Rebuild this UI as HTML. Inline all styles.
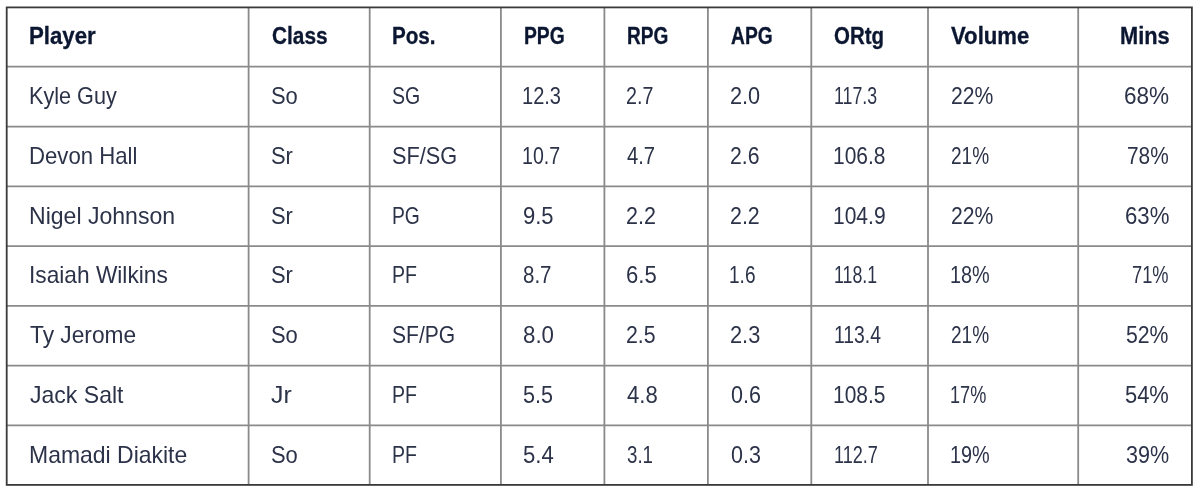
<!DOCTYPE html><html><head><meta charset="utf-8"><style>
html,body{margin:0;padding:0;background:#fff;width:1200px;height:494px;overflow:hidden;position:relative}
#w{position:absolute;left:0;top:0;width:1200px;height:494px;filter:blur(0px)}
.t{position:absolute;white-space:nowrap;transform-origin:0 0;font-family:"Liberation Sans",sans-serif}
.h{font-weight:bold;font-size:23.3px;line-height:30px;color:#0b1631;-webkit-text-stroke:0.3px #0b1631}
.b{font-weight:normal;font-size:23.6px;line-height:30px;color:#2c3349}
svg{position:absolute;left:0;top:0}
</style></head><body><div id="w">
<svg width="1200" height="494" viewBox="0 0 1200 494">
<line x1="248.6" y1="7.4" x2="248.6" y2="484.9" stroke="#8a8a8a" stroke-width="1.8"/>
<line x1="369.7" y1="7.4" x2="369.7" y2="484.9" stroke="#8a8a8a" stroke-width="1.8"/>
<line x1="500.9" y1="7.4" x2="500.9" y2="484.9" stroke="#8a8a8a" stroke-width="1.8"/>
<line x1="604.4" y1="7.4" x2="604.4" y2="484.9" stroke="#8a8a8a" stroke-width="1.8"/>
<line x1="707.9" y1="7.4" x2="707.9" y2="484.9" stroke="#8a8a8a" stroke-width="1.8"/>
<line x1="811.3" y1="7.4" x2="811.3" y2="484.9" stroke="#8a8a8a" stroke-width="1.8"/>
<line x1="928.0" y1="7.4" x2="928.0" y2="484.9" stroke="#8a8a8a" stroke-width="1.8"/>
<line x1="1078.2" y1="7.4" x2="1078.2" y2="484.9" stroke="#8a8a8a" stroke-width="1.8"/>
<line x1="6.7" y1="66.7" x2="1191.9" y2="66.7" stroke="#8a8a8a" stroke-width="1.8"/>
<line x1="6.7" y1="126.6" x2="1191.9" y2="126.6" stroke="#8a8a8a" stroke-width="1.8"/>
<line x1="6.7" y1="186.4" x2="1191.9" y2="186.4" stroke="#8a8a8a" stroke-width="1.8"/>
<line x1="6.7" y1="246.1" x2="1191.9" y2="246.1" stroke="#8a8a8a" stroke-width="1.8"/>
<line x1="6.7" y1="305.85" x2="1191.9" y2="305.85" stroke="#8a8a8a" stroke-width="1.8"/>
<line x1="6.7" y1="365.6" x2="1191.9" y2="365.6" stroke="#8a8a8a" stroke-width="1.8"/>
<line x1="6.7" y1="425.4" x2="1191.9" y2="425.4" stroke="#8a8a8a" stroke-width="1.8"/>
<rect x="6.7" y="7.4" width="1185.2" height="477.5" fill="none" stroke="#3a3a3a" stroke-width="1.8"/>
</svg>
<div class="t h" style="left:28.96px;top:21.00px;transform:scaleX(0.9537)">Player</div>
<div class="t h" style="left:271.57px;top:21.00px;transform:scaleX(0.8932)">Class</div>
<div class="t h" style="left:392.41px;top:21.00px;transform:scaleX(0.8855)">Pos.</div>
<div class="t h" style="left:523.65px;top:21.00px;transform:scaleX(0.8281)">PPG</div>
<div class="t h" style="left:627.26px;top:21.00px;transform:scaleX(0.8184)">RPG</div>
<div class="t h" style="left:730.52px;top:21.00px;transform:scaleX(0.8254)">APG</div>
<div class="t h" style="left:834.38px;top:21.00px;transform:scaleX(0.8785)">ORtg</div>
<div class="t h" style="left:951.14px;top:21.00px;transform:scaleX(0.9503)">Volume</div>
<div class="t h" style="left:1119.88px;top:21.00px;transform:scaleX(0.9353)">Mins</div>
<div class="t b" style="left:28.97px;top:81.00px;transform:scaleX(0.9167)">Kyle Guy</div>
<div class="t b" style="left:270.71px;top:81.00px;transform:scaleX(0.9292)">So</div>
<div class="t b" style="left:392.42px;top:81.00px;transform:scaleX(0.8283)">SG</div>
<div class="t b" style="left:521.80px;top:81.00px;transform:scaleX(0.8498)">12.3</div>
<div class="t b" style="left:626.32px;top:81.00px;transform:scaleX(0.8343)">2.7</div>
<div class="t b" style="left:729.62px;top:81.00px;transform:scaleX(0.9189)">2.0</div>
<div class="t b" style="left:833.67px;top:81.00px;transform:scaleX(0.7521)">117.3</div>
<div class="t b" style="left:950.64px;top:81.00px;transform:scaleX(0.8960)">22%</div>
<div class="t b" style="left:1123.87px;top:81.00px;transform:scaleX(0.9556)">68%</div>
<div class="t b" style="left:28.73px;top:141.00px;transform:scaleX(0.9394)">Devon Hall</div>
<div class="t b" style="left:270.71px;top:141.00px;transform:scaleX(0.9286)">Sr</div>
<div class="t b" style="left:392.32px;top:141.00px;transform:scaleX(0.9209)">SF/SG</div>
<div class="t b" style="left:521.83px;top:141.00px;transform:scaleX(0.8289)">10.7</div>
<div class="t b" style="left:626.90px;top:141.00px;transform:scaleX(0.8571)">4.7</div>
<div class="t b" style="left:729.64px;top:141.00px;transform:scaleX(0.8996)">2.6</div>
<div class="t b" style="left:833.43px;top:141.00px;transform:scaleX(0.8883)">106.8</div>
<div class="t b" style="left:950.75px;top:141.00px;transform:scaleX(0.8077)">21%</div>
<div class="t b" style="left:1127.26px;top:141.00px;transform:scaleX(0.8828)">78%</div>
<div class="t b" style="left:28.66px;top:201.00px;transform:scaleX(0.9767)">Nigel Johnson</div>
<div class="t b" style="left:270.71px;top:201.00px;transform:scaleX(0.9286)">Sr</div>
<div class="t b" style="left:391.76px;top:201.00px;transform:scaleX(0.8180)">PG</div>
<div class="t b" style="left:523.01px;top:201.00px;transform:scaleX(0.9319)">9.5</div>
<div class="t b" style="left:626.23px;top:201.00px;transform:scaleX(0.9099)">2.2</div>
<div class="t b" style="left:729.63px;top:201.00px;transform:scaleX(0.9066)">2.2</div>
<div class="t b" style="left:833.42px;top:201.00px;transform:scaleX(0.8902)">104.9</div>
<div class="t b" style="left:950.64px;top:201.00px;transform:scaleX(0.8960)">22%</div>
<div class="t b" style="left:1124.59px;top:201.00px;transform:scaleX(0.9401)">63%</div>
<div class="t b" style="left:28.66px;top:260.00px;transform:scaleX(0.9621)">Isaiah Wilkins</div>
<div class="t b" style="left:270.71px;top:260.00px;transform:scaleX(0.9286)">Sr</div>
<div class="t b" style="left:391.73px;top:260.00px;transform:scaleX(0.8292)">PF</div>
<div class="t b" style="left:523.18px;top:260.00px;transform:scaleX(0.8703)">8.7</div>
<div class="t b" style="left:626.20px;top:260.00px;transform:scaleX(0.9355)">6.5</div>
<div class="t b" style="left:729.27px;top:260.00px;transform:scaleX(0.8076)">1.6</div>
<div class="t b" style="left:833.67px;top:260.00px;transform:scaleX(0.7537)">118.1</div>
<div class="t b" style="left:950.21px;top:260.00px;transform:scaleX(0.8407)">18%</div>
<div class="t b" style="left:1132.39px;top:260.00px;transform:scaleX(0.7724)">71%</div>
<div class="t b" style="left:29.85px;top:320.00px;transform:scaleX(0.9634)">Ty Jerome</div>
<div class="t b" style="left:270.71px;top:320.00px;transform:scaleX(0.9292)">So</div>
<div class="t b" style="left:392.35px;top:320.00px;transform:scaleX(0.8915)">SF/PG</div>
<div class="t b" style="left:523.11px;top:320.00px;transform:scaleX(0.9441)">8.0</div>
<div class="t b" style="left:626.23px;top:320.00px;transform:scaleX(0.9029)">2.5</div>
<div class="t b" style="left:729.61px;top:320.00px;transform:scaleX(0.9224)">2.3</div>
<div class="t b" style="left:833.55px;top:320.00px;transform:scaleX(0.8201)">113.4</div>
<div class="t b" style="left:950.75px;top:320.00px;transform:scaleX(0.8077)">21%</div>
<div class="t b" style="left:1126.45px;top:320.00px;transform:scaleX(0.9001)">52%</div>
<div class="t b" style="left:29.95px;top:380.00px;transform:scaleX(0.9766)">Jack Salt</div>
<div class="t b" style="left:271.33px;top:380.00px;transform:scaleX(1.0527)">Jr</div>
<div class="t b" style="left:391.73px;top:380.00px;transform:scaleX(0.8292)">PF</div>
<div class="t b" style="left:523.14px;top:380.00px;transform:scaleX(0.9154)">5.5</div>
<div class="t b" style="left:626.86px;top:380.00px;transform:scaleX(0.9367)">4.8</div>
<div class="t b" style="left:730.95px;top:380.00px;transform:scaleX(0.9119)">0.6</div>
<div class="t b" style="left:833.43px;top:380.00px;transform:scaleX(0.8883)">108.5</div>
<div class="t b" style="left:950.34px;top:380.00px;transform:scaleX(0.7670)">17%</div>
<div class="t b" style="left:1125.12px;top:380.00px;transform:scaleX(0.9287)">54%</div>
<div class="t b" style="left:28.66px;top:440.00px;transform:scaleX(0.9733)">Mamadi Diakite</div>
<div class="t b" style="left:270.71px;top:440.00px;transform:scaleX(0.9292)">So</div>
<div class="t b" style="left:391.73px;top:440.00px;transform:scaleX(0.8292)">PF</div>
<div class="t b" style="left:523.12px;top:440.00px;transform:scaleX(0.9370)">5.4</div>
<div class="t b" style="left:626.55px;top:440.00px;transform:scaleX(0.7923)">3.1</div>
<div class="t b" style="left:730.95px;top:440.00px;transform:scaleX(0.9119)">0.3</div>
<div class="t b" style="left:833.64px;top:440.00px;transform:scaleX(0.7666)">112.7</div>
<div class="t b" style="left:950.21px;top:440.00px;transform:scaleX(0.8407)">19%</div>
<div class="t b" style="left:1125.84px;top:440.00px;transform:scaleX(0.9133)">39%</div>
</div></body></html>
